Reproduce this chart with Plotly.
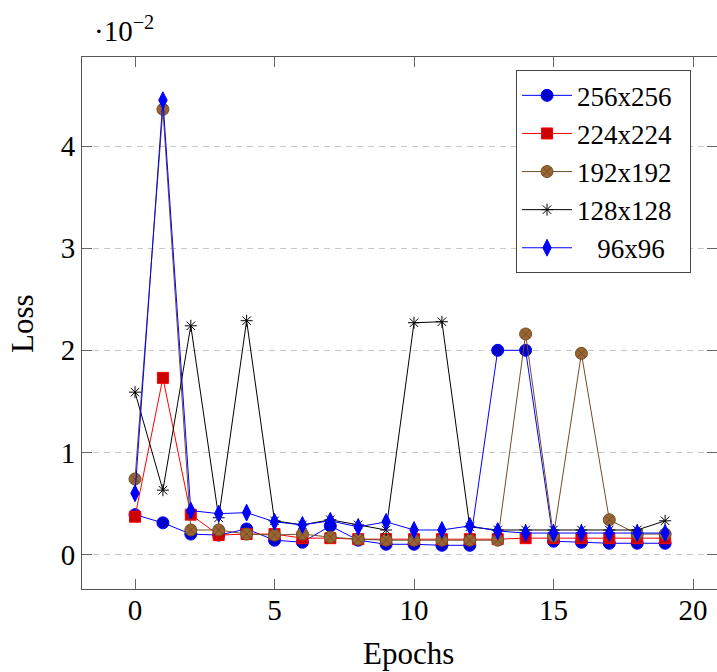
import plotly.graph_objects as go

epochs = [0, 1, 2, 3, 4, 5, 6, 7, 8, 9, 10, 11, 12, 13, 14, 15, 16, 17, 18, 19]
loss_256 = [0.39, 0.31, 0.20, 0.19, 0.25, 0.14, 0.12, 0.28, 0.14, 0.10, 0.10, 0.09, 0.09, 2.00, 2.00, 0.13, 0.12, 0.11, 0.11, 0.11]
loss_224 = [0.37, 1.73, 0.39, 0.19, 0.20, 0.20, 0.16, 0.16, 0.15, 0.15, 0.15, 0.15, 0.15, 0.15, 0.16, 0.16, 0.16, 0.16, 0.16, 0.16]
loss_192 = [0.74, 4.36, 0.24, 0.24, 0.20, 0.19, 0.20, 0.17, 0.15, 0.14, 0.14, 0.14, 0.14, 0.14, 2.16, 0.18, 1.97, 0.34, 0.20, 0.20]
loss_128 = [1.59, 0.63, 2.24, 0.36, 2.29, 0.33, 0.29, 0.34, 0.29, 0.24, 2.27, 2.28, 0.27, 0.24, 0.24, 0.24, 0.24, 0.24, 0.24, 0.33]
loss_96 = [0.60, 4.45, 0.43, 0.40, 0.41, 0.32, 0.29, 0.33, 0.27, 0.32, 0.24, 0.24, 0.28, 0.23, 0.21, 0.21, 0.21, 0.21, 0.21, 0.21]

series_names = ["256x256\u00a0\u00a0", "224x224\u00a0\u00a0", "192x192\u00a0\u00a0", "128x128\u00a0\u00a0", "\u00a0\u00a0\u00a096x96"]
x_ticks = [0, 5, 10, 15, 20]
y_ticks = [0, 1, 2, 3, 4]

FONT = "Liberation Serif"
FS = 29

styles = [
    dict(line=dict(color="#0000ff", width=1),
         marker=dict(symbol="circle", size=12, color="#0000cc", line=dict(color="#0000ff", width=1))),
    dict(line=dict(color="#ff0000", width=1),
         marker=dict(symbol="square", size=11, color="#cc0000", line=dict(color="#ff0000", width=1))),
    dict(line=dict(color="#734d26", width=1),
         marker=dict(symbol="circle-x", size=12, color="#996633", line=dict(color="#734d26", width=1))),
    dict(line=dict(color="#000000", width=1),
         marker=dict(symbol="asterisk-open", size=10, color="#000000", line=dict(color="#000000", width=1))),
    dict(line=dict(color="#0000ff", width=1),
         marker=dict(symbol="diamond-tall", size=12, color="#0000ff", line=dict(color="#0000ff", width=1))),
]

fig = go.Figure()
for i, (name, ys) in enumerate(zip(series_names, [loss_256, loss_224, loss_192, loss_128, loss_96])):
    fig.add_trace(go.Scatter(x=epochs, y=ys, mode="lines+markers", name=name, **styles[i]))

axis_common = dict(
    showline=True, linecolor="#555555", linewidth=1, mirror="allticks",
    ticks="inside", ticklen=10, tickcolor="#666666", tickwidth=1,
    tickfont=dict(family=FONT, size=FS, color="black"), zeroline=False,
)

fig.update_xaxes(range=[-1.9, 20.86], tickvals=x_ticks, ticktext=[str(v) for v in x_ticks],
                 showgrid=False, ticklabelstandoff=-5, **axis_common)
fig.update_yaxes(range=[-0.338, 4.873], tickvals=y_ticks, ticktext=[str(v) for v in y_ticks],
                 showgrid=True, gridcolor="#c8c8c8", gridwidth=1, griddash="6px,5px", **axis_common)

fig.update_layout(
    width=717, height=672,
    margin=dict(l=82, r=0, t=57, b=83),
    paper_bgcolor="white", plot_bgcolor="white",
    font=dict(family=FONT, size=FS, color="black"),
    showlegend=True,
    legend=dict(x=0.6835, y=0.975, xanchor="left", yanchor="top",
                bgcolor="white", bordercolor="#444444", borderwidth=1,
                font=dict(family=FONT, size=27), itemwidth=50),
    annotations=[
        dict(text="Epochs", xref="paper", yref="paper", x=0.5137, y=-0.122,
             xanchor="center", yanchor="middle", showarrow=False, font=dict(family=FONT, size=31)),
        dict(text="Loss", xref="paper", yref="paper", x=-0.0945, y=0.5,
             xanchor="center", yanchor="middle", textangle=-90, showarrow=False, font=dict(family=FONT, size=31)),
        dict(text="\u00b710<sup>\u22122</sup>", xref="paper", yref="paper", x=0.015, y=1.052,
             xanchor="left", yanchor="middle", showarrow=False, font=dict(family=FONT, size=FS)),
    ],
)

fig.write_html("out.html")
